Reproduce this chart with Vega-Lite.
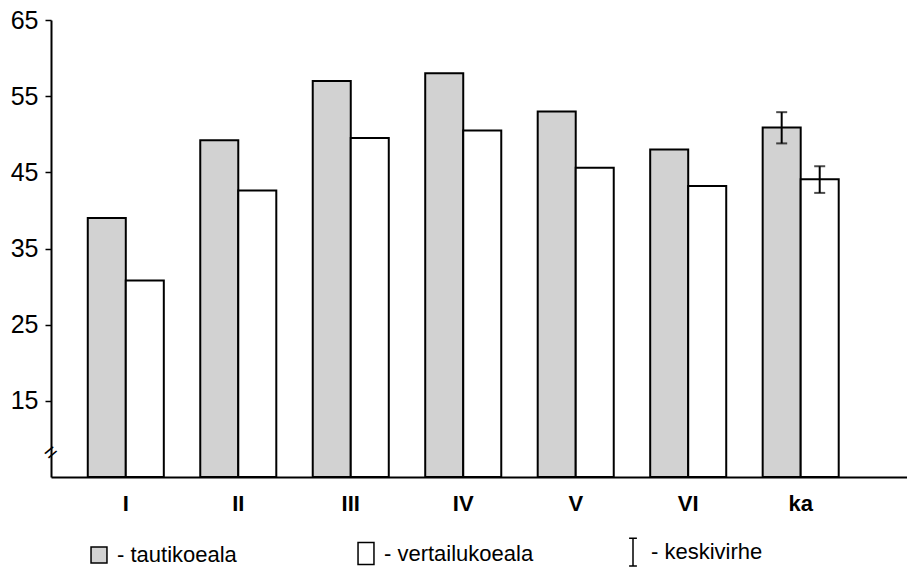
{
  "$schema": "https://vega.github.io/schema/vega-lite/v6.json",
  "width": 856,
  "height": 457,
  "autosize": "none",
  "padding": {"left": 51, "top": 20, "right": 0, "bottom": 95},
  "background": "white",
  "config": {
    "view": {"stroke": null},
    "font": "Liberation Sans",
    "axisY": {"labelFontSize": 25, "labelColor": "black", "labelPadding": 7},
    "axisX": {"labelFontSize": 22, "labelFontWeight": "bold", "labelColor": "black"}
  },
  "data": {
    "values": [
      {"ryhma": "I", "ala": "tautikoeala", "arvo": 39.0},
      {"ryhma": "I", "ala": "vertailukoeala", "arvo": 30.8},
      {"ryhma": "II", "ala": "tautikoeala", "arvo": 49.2},
      {"ryhma": "II", "ala": "vertailukoeala", "arvo": 42.6},
      {"ryhma": "III", "ala": "tautikoeala", "arvo": 57.0},
      {"ryhma": "III", "ala": "vertailukoeala", "arvo": 49.5},
      {"ryhma": "IV", "ala": "tautikoeala", "arvo": 58.0},
      {"ryhma": "IV", "ala": "vertailukoeala", "arvo": 50.5},
      {"ryhma": "V", "ala": "tautikoeala", "arvo": 53.0},
      {"ryhma": "V", "ala": "vertailukoeala", "arvo": 45.6},
      {"ryhma": "VI", "ala": "tautikoeala", "arvo": 48.0},
      {"ryhma": "VI", "ala": "vertailukoeala", "arvo": 43.2},
      {"ryhma": "ka", "ala": "tautikoeala", "arvo": 50.9, "ala_raja": 48.8, "yla_raja": 52.9},
      {"ryhma": "ka", "ala": "vertailukoeala", "arvo": 44.1, "ala_raja": 42.3, "yla_raja": 45.8}
    ]
  },
  "encoding": {
    "x": {
      "field": "ryhma", "type": "nominal", "sort": null,
      "scale": {"paddingInner": 0.324, "paddingOuter": 0.467, "align": 0.35},
      "axis": {
        "title": null, "labelAngle": 0, "ticks": false, "labelPadding": 16,
        "labelFontSize": 22, "labelFontWeight": "bold", "labelColor": "black",
        "domainColor": "black", "domainWidth": 2
      }
    },
    "xOffset": {"field": "ala", "type": "nominal", "sort": ["tautikoeala", "vertailukoeala"], "scale": {"paddingInner": 0, "paddingOuter": 0}}
  },
  "layer": [
    {
      "mark": {"type": "bar", "stroke": "black", "strokeWidth": 2},
      "encoding": {
        "y": {
          "field": "arvo", "type": "quantitative",
          "scale": {"domain": [5, 65], "nice": false, "zero": false},
          "axis": {
            "title": null, "values": [15, 25, 35, 45, 55, 65], "grid": false,
            "labelFontSize": 25, "labelColor": "black", "labelPadding": 7,
            "tickColor": "black", "tickSize": 6, "tickWidth": 1.5,
            "domainColor": "black", "domainWidth": 2
          }
        },
        "y2": {"datum": 5},
        "color": {
          "field": "ala", "type": "nominal",
          "scale": {"domain": ["tautikoeala", "vertailukoeala", "keskivirhe"], "range": ["#d2d2d2", "#ffffff", "transparent"]},
          "legend": {
            "title": null, "orient": "none", "direction": "horizontal",
            "legendX": 37, "legendY": 521,
            "labelExpr": "'- ' + datum.label",
            "labelFontSize": 22, "labelColor": "black", "labelOffset": 7,
            "symbolType": "square", "symbolSize": 300,
            "symbolStrokeColor": "black", "symbolStrokeWidth": 1.5,
            "columnPadding": 88, "gridAlign": "all",
            "encode": {
              "symbols": {
                "update": {
                  "shape": {"signal": "datum.value === 'keskivirhe' ? 'M-0.45,-1.6H0.45M0,-1.6V1.6M-0.45,1.6H0.45' : datum.value === 'vertailukoeala' ? 'M-0.92,-1.27H0.92V1.27H-0.92Z' : 'M-0.92,-0.92H0.92V0.92H-0.92Z'"},
                  "stroke": {"value": "black"}
                }
              }
            }
          }
        }
      }
    },
    {
      "mark": {"type": "rule", "color": "black", "strokeWidth": 2},
      "encoding": {
        "y": {"field": "ala_raja", "type": "quantitative"},
        "y2": {"field": "yla_raja"}
      }
    },
    {
      "mark": {"type": "tick", "color": "black", "thickness": 2, "size": 11},
      "encoding": {"y": {"field": "ala_raja", "type": "quantitative"}}
    },
    {
      "mark": {"type": "tick", "color": "black", "thickness": 2, "size": 11},
      "encoding": {"y": {"field": "yla_raja", "type": "quantitative"}}
    },
    {
      "data": {"values": [{"katko": 8.2}]},
      "mark": {"type": "text", "text": "=", "fontSize": 22, "angle": -40, "color": "black"},
      "encoding": {
        "x": {"value": 0},
        "xOffset": null,
        "y": {"field": "katko", "type": "quantitative"}
      }
    }
  ]
}
